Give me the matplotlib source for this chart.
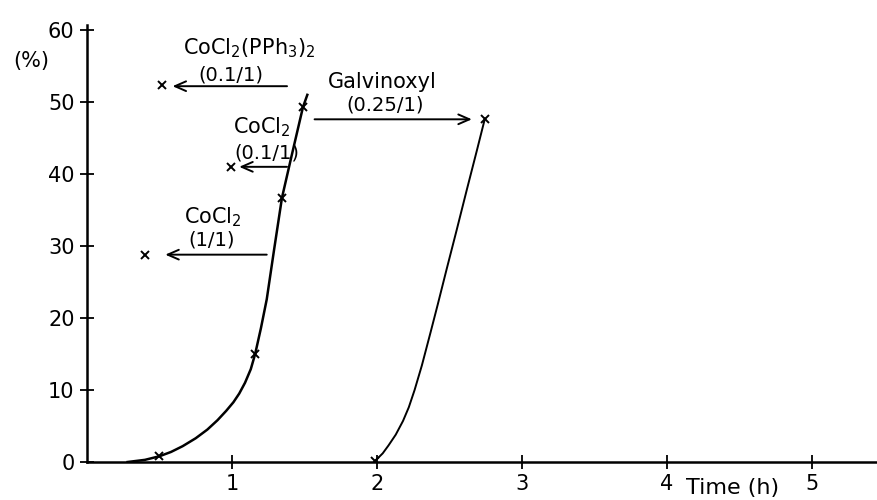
import matplotlib
matplotlib.use("Agg")
import matplotlib.pyplot as plt
import numpy as np

# main run (no inhibitor), curve
main_t = [0.28, 0.40, 0.50, 0.58, 0.66, 0.75, 0.83, 0.90, 0.96, 1.01, 1.05, 1.09, 1.13, 1.16,
          1.20, 1.24, 1.29, 1.345, 1.41, 1.49, 1.52]
main_y = [0.0, 0.3, 0.8, 1.4, 2.2, 3.3, 4.5, 5.8, 7.1, 8.3, 9.5, 11.0, 12.9, 15.0,
          18.6, 22.6, 29.4, 36.7, 42.4, 49.3, 51.0]
main_pts_t = [0.50, 1.16, 1.345, 1.49]
main_pts_y = [0.8, 15.0, 36.7, 49.3]

# run with galvinoxyl added
galv_t = [1.99, 2.04, 2.08, 2.13, 2.18, 2.22, 2.26, 2.31, 2.37, 2.42, 2.48, 2.55, 2.62, 2.69, 2.745]
galv_y = [0.2, 1.2, 2.3, 3.8, 5.7, 7.6, 10.0, 13.4, 18.0, 21.9, 26.7, 32.2, 37.8, 43.3, 47.7]
galv_pts_t = [1.99, 2.745]
galv_pts_y = [0.2, 47.7]

# inhibitor additions: marker point, arrow tail -> head
inhib_pts_t = [0.52, 0.99, 0.40]
inhib_pts_y = [52.4, 41.0, 28.7]
arrow_tail_t = [1.38, 1.38, 1.24, 1.57]
arrow_head_t = [0.59, 1.05, 0.54, 2.655]
arrow_y = [52.2, 41.0, 28.8, 47.6]

x_ticks = [1, 2, 3, 4, 5]
y_ticks = [0, 10, 20, 30, 40, 50, 60]

W, H = 877, 500
fig = plt.figure(figsize=(W / 100, H / 100), dpi=100)
ax = fig.add_axes([87 / W, 38 / H, (W - 87) / W, 437 / H])

ax.plot(main_t, main_y, color="black", lw=1.8, solid_joinstyle="round")
ax.plot(galv_t, galv_y, color="black", lw=1.4, solid_joinstyle="round")
ax.plot(main_pts_t + galv_pts_t + inhib_pts_t, main_pts_y + galv_pts_y + inhib_pts_y,
        "x", color="black", ms=6, mew=1.4)

for t0, t1, yy in zip(arrow_tail_t, arrow_head_t, arrow_y):
    ax.annotate("", xy=(t1, yy), xytext=(t0, yy),
                arrowprops=dict(arrowstyle="->,head_length=0.8,head_width=0.35",
                                color="black", lw=1.4, shrinkA=0, shrinkB=0))

fs = 15
ax.text(1.12, 57.5, r"CoCl$_2$(PPh$_3$)$_2$", ha="center", va="center", fontsize=fs)
ax.text(0.99, 53.8, "(0.1/1)", ha="center", va="center", fontsize=fs - 1)
ax.text(1.21, 46.5, r"CoCl$_2$", ha="center", va="center", fontsize=fs)
ax.text(1.24, 42.9, "(0.1/1)", ha="center", va="center", fontsize=fs - 1)
ax.text(0.87, 34.0, r"CoCl$_2$", ha="center", va="center", fontsize=fs)
ax.text(0.86, 30.8, "(1/1)", ha="center", va="center", fontsize=fs - 1)
ax.text(2.04, 52.8, "Galvinoxyl", ha="center", va="center", fontsize=fs)
ax.text(2.06, 49.6, "(0.25/1)", ha="center", va="center", fontsize=fs - 1)

ax.set_xlim(0, 5.45)
ax.set_ylim(0, 60.7)
ax.set_xticks(x_ticks)
ax.set_yticks(y_ticks)
ax.tick_params(direction="inout", length=10, width=1.3, labelsize=15, pad=4)
for s in ["top", "right"]:
    ax.spines[s].set_visible(False)
for s in ["left", "bottom"]:
    ax.spines[s].set_linewidth(1.8)

fig.text(31 / W, 1 - 61 / H, "(%)", ha="center", va="center", fontsize=15)
fig.text(733 / W, 1 - 488 / H, "Time (h)", ha="center", va="center", fontsize=16)

fig.savefig("out.png", dpi=100)
